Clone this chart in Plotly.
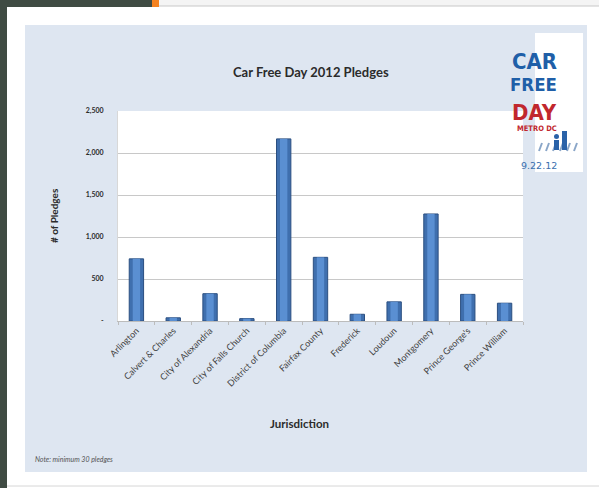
import plotly.graph_objects as go

categories = ["Arlington", "Calvert & Charles", "City of Alexandria", "City of Falls Church",
              "District of Columbia", "Fairfax County", "Frederick", "Loudoun",
              "Montgomery", "Prince George's", "Prince William"]
pledges = [740, 38, 325, 28, 2168, 758, 80, 228, 1274, 317, 212]
ytick_vals = [0, 500, 1000, 1500, 2000, 2500]
ytick_text = ["-", "500", "1,000", "1,500", "2,000", "2,500"]

W, H = 599, 488
L, R, T, B = 118, 523, 111, 321  # plot area in pixels

def px(x):
    return (x - L) / (R - L)

def py(y):
    return (B - y) / (B - T)

FONT = "Lato"
COND = "DejaVu Sans Condensed, DejaVu Sans"

fig = go.Figure()
fig.add_trace(go.Bar(x=categories, y=pledges, width=0.39,
                     marker=dict(color="#3f6fae", line=dict(color="#2b4f80", width=1)),
                     hoverinfo="x+y"))
fig.add_trace(go.Bar(x=categories, y=pledges, width=0.2,
                     marker=dict(color="#5a8fd2", line=dict(width=0)),
                     hoverinfo="skip"))

shapes = []
def rect(x0, x1, y0, y1, color, layer="below"):
    shapes.append(dict(type="rect", xref="paper", yref="paper", x0=px(x0), x1=px(x1), y0=py(y1), y1=py(y0),
                       fillcolor=color, line=dict(width=0), layer=layer))

# page frame
rect(0, W, 0, H, "#ffffff")
rect(0, 7, 0, H, "#3f4b43")
rect(0, 152, 0, 7, "#3f4b43")
rect(152, 159, 0, 7, "#f58220")
rect(159, W, 0, 6, "#f4f4f4")
shapes.append(dict(type="line", xref="paper", yref="paper", x0=px(159), x1=px(W), y0=py(6), y1=py(6),
                   line=dict(color="#c8c8c8", width=1), layer="below"))
shapes.append(dict(type="line", xref="paper", yref="paper", x0=px(7), x1=px(W), y0=py(486), y1=py(486),
                   line=dict(color="#d6d6d6", width=1), layer="below"))
# chart area
rect(25, 587, 25, 472, "#dee6f1")
# plot area white
shapes.append(dict(type="rect", xref="paper", yref="paper", x0=0, x1=1, y0=0, y1=1,
                   fillcolor="#ffffff", line=dict(width=0), layer="below"))
# logo
rect(535, 583, 33, 172, "#ffffff", "above")
for i in range(6):
    sx = 539 + i * 7
    shapes.append(dict(type="line", xref="paper", yref="paper", x0=px(sx), x1=px(sx + 3), y0=py(151), y1=py(143),
                       line=dict(color="#8aa6c8", width=2), layer="above"))
# figures
rect(562, 567, 131, 150, "#2a62a8", "above")
shapes.append(dict(type="circle", xref="paper", yref="paper", x0=px(554), x1=px(559), y0=py(139), y1=py(134),
                   fillcolor="#2a62a8", line=dict(width=0), layer="above"))
rect(554, 559, 140, 150, "#2a62a8", "above")

ann = []
ann.append(dict(text="<b>Car Free Day 2012 Pledges</b>", x=px(311), y=py(62), xref="paper", yref="paper",
                showarrow=False, font=dict(family=FONT, size=13, color="#2b2b2b")))
ann.append(dict(text="<b>Jurisdiction</b>", x=px(299), y=py(432), xref="paper", yref="paper",
                showarrow=False, font=dict(family=FONT, size=11.5, color="#2b2b2b")))
ann.append(dict(text="<b># of Pledges</b>", x=px(46), y=py(216), xref="paper", yref="paper", textangle=-90,
                showarrow=False, font=dict(family=FONT, size=10, color="#2b2b2b")))
ann.append(dict(text="<i>Note: minimum 30 pledges</i>", x=px(33), y=py(465), xref="paper", yref="paper",
                xanchor="left", showarrow=False, font=dict(family=FONT, size=7, color="#555555")))
# logo text
ann.append(dict(text="<b>CAR</b>", x=px(559), y=py(47), xref="paper", yref="paper", showarrow=False,
                font=dict(family=COND, size=22, color="#1f5fa8")))
ann.append(dict(text="<b>FREE</b>", x=px(559), y=py(72), xref="paper", yref="paper", showarrow=False,
                font=dict(family=COND, size=18.5, color="#1f5fa8")))
ann.append(dict(text="<b>DAY</b>", x=px(559), y=py(97.5), xref="paper", yref="paper", showarrow=False,
                font=dict(family=COND, size=22, color="#c1272d")))
ann.append(dict(text="<b>METRO DC</b>", x=px(559), y=py(121.5), xref="paper", yref="paper", showarrow=False,
                font=dict(family=COND, size=7.5, color="#c1272d")))
ann.append(dict(text="9.22.12", x=px(559), y=py(158), xref="paper", yref="paper", showarrow=False,
                font=dict(family="DejaVu Sans", size=9.5, color="#3a6fae")))

fig.update_layout(
    width=W, height=H,
    margin=dict(l=L, r=W - R, t=T, b=H - B, pad=0),
    paper_bgcolor="#ffffff", plot_bgcolor="rgba(0,0,0,0)",
    barmode="overlay", showlegend=False,
    shapes=shapes, annotations=ann,
    xaxis=dict(tickangle=-45, tickfont=dict(family=FONT, size=9, color="#404040"),
               showline=True, linecolor="#bcbcbc", linewidth=1,
               ticks="outside", ticklen=3, tickcolor="#bcbcbc", tickson="boundaries",
               showgrid=False, fixedrange=True),
    yaxis=dict(range=[0, 2500], tickvals=ytick_vals, ticktext=ytick_text,
               tickfont=dict(family=FONT, size=7, color="#2b2b2b", weight="bold"),
               showgrid=True, gridcolor="#c8c8c8", gridwidth=1,
               showline=True, linecolor="#d8d8d8", linewidth=1,
               ticks="", ticklabelstandoff=12, zeroline=False, fixedrange=True),
)

fig.write_html("out.html", config={"displayModeBar": False},
               post_script="document.body.style.margin='0';document.body.style.overflow='hidden';")
